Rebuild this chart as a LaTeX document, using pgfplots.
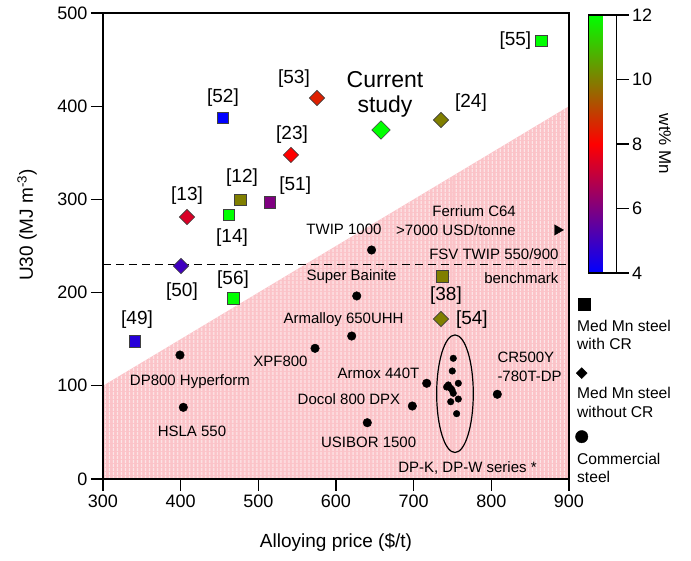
\documentclass[border=0pt]{standalone}
\usepackage{fontspec}
\setmainfont{Liberation Sans}
\usepackage{pgfplots}
\usepackage{pgfplotstable}
\pgfplotsset{compat=1.18}
\usetikzlibrary{patterns.meta}

\newcommand{\ann}{\fontsize{15}{19}\selectfont}
\newcommand{\refl}{\fontsize{19}{21}\selectfont}
\newcommand{\leg}{\fontsize{15.6}{18.5}\selectfont}

\pgfplotstableread{
x y mn
454.5 387.4 4
476.4 299.4 10
515.0 297.2 6
462.2 283.3 12
864.0 470.0 12
467.4 194.2 12
341.2 148.0 4.6
736.5 217.8 10
}\squares

\pgfplotstableread{
x y mn
575.5 408.8 8.5
542.0 347.7 8
408.2 281.1 7.4
735.2 385.2 10
400.4 228.5 5
735.2 171.7 10
}\diamonds

\pgfplotstableread{
x y
645.8 245.7
626.7 196.4
620.2 153.4
573.0 140.2
399.1 133.0
403.4 76.9
716.8 102.7
698.3 78.3
640.3 60.4
807.7 90.9
}\commercial

\pgfplotstableread{
x y
751.0 129.5
749.7 115.9
757.5 102.7
744.6 100.9
747.7 97.3
751.0 92.0
757.5 85.8
747.7 82.9
755.3 70.1
742.4 98.7
749.4 95.5
}\dpseries

\definecolor{pinkfill}{RGB}{251,195,200}

\begin{document}
\begin{tikzpicture}
\begin{axis}[
  width=466pt, height=466pt, scale only axis,
  xmin=300, xmax=900, ymin=0, ymax=500,
  xtick={300,400,...,900}, ytick={0,100,...,500},
  tick align=outside, tick pos=left, major tick length=12pt,
  axis line style={line width=1.1pt},
  every tick/.style={line width=1.1pt, black},
  ticklabel style={font=\fontsize{18}{20}\selectfont},
  /pgf/number format/assume math mode=true,
  xlabel={Alloying price (\$/t)},
  ylabel={U30 (MJ m\textsuperscript{-3})},
  label style={font=\fontsize{19}{22}\selectfont},
  x label style={at={(axis description cs:0.5,-0.137)}, anchor=center},
  y label style={at={(axis description cs:-0.163,0.545)}, anchor=center},
  axis on top,
  clip=false,
  colormap={mn}{rgb255=(0,0,255) rgb255=(255,0,0) rgb255=(0,255,0)},
  point meta min=4, point meta max=12,
  colorbar,
  colorbar style={
    at={(parent axis.north east)}, anchor=north west,
    xshift=11pt, yshift=-2pt,
    scale only axis, width=28pt, height=258pt,
    ytick={4,6,...,12},
    ytick pos=right, yticklabel pos=right,
    tick align=outside, major tick length=12pt,
    every tick/.style={line width=1.1pt, black},
    axis line style={line width=1.1pt},
    yticklabel style={font=\fontsize{18}{20}\selectfont},
    /pgf/number format/assume math mode=true,
    ylabel={wt\% Mn},
    ylabel style={rotate=180, font=\fontsize{17}{20}\selectfont},
  },
]
% shaded region
\addplot[draw=none, fill=pinkfill] coordinates {(300,100) (900,400)} \closedcycle;
\addplot[draw=none, pattern={Lines[angle=90, distance=4pt, line width=1pt]}, pattern color=white!60!pinkfill] coordinates {(300,100) (900,400)} \closedcycle;
% benchmark line
\addplot[black, line width=1.1pt, dash pattern=on 8pt off 5pt] coordinates {(300,230) (900,230)};

% commercial steels
\addplot[only marks, mark=*, mark size=4.3pt, black] table {\commercial};
\addplot[only marks, mark=*, mark size=3.3pt, black] table {\dpseries};
\draw[line width=1.2pt] (axis cs:753.2,91.5) ellipse [x radius=18.3pt, y radius=58.8pt];

% Med Mn with CR
\addplot[scatter, only marks, mark=square*, mark size=5.8pt, scatter src=explicit,
  scatter/use mapped color={draw=black!75, fill=mapped color},
  mark options={line width=0.6pt}] table[meta=mn] {\squares};
% Med Mn without CR
\addplot[scatter, only marks, mark=square*, mark size=5.4pt, scatter src=explicit,
  scatter/use mapped color={draw=black!75, fill=mapped color},
  mark options={rotate=45, line width=0.6pt}] table[meta=mn] {\diamonds};
% current study
\addplot[scatter, only marks, mark=square*, mark size=6.5pt, scatter src=explicit,
  scatter/use mapped color={draw=black!75, fill=mapped color},
  mark options={rotate=45, line width=0.6pt}] table[meta=mn] {
x y mn
658.0 374.5 12
};

% Ferrium arrow
\addplot[only marks, mark=triangle*, mark size=6pt, black, mark options={rotate=-90}] coordinates {(885.2,267.2)};

% legend markers
\addplot[only marks, mark=square*, mark size=6pt, black] coordinates {(919.3,187.8)};
\addplot[only marks, mark=square*, mark size=3.8pt, black, mark options={rotate=45}] coordinates {(916.4,113.6)};
\addplot[only marks, mark=*, mark size=6.2pt, black] coordinates {(916.4,45.4)};

% reference labels
\node[font=\refl] at (axis cs:454.5,408.8) {[52]};
\node[font=\refl] at (axis cs:545.9,429.2) {[53]};
\node[font=\fontsize{23}{25}\selectfont, align=center] at (axis cs:663.1,413.0) {Current\\study};
\node[font=\refl] at (axis cs:773.8,403.4) {[24]};
\node[font=\refl] at (axis cs:831.0,470.0) {[55]};
\node[font=\refl] at (axis cs:543.4,369.1) {[23]};
\node[font=\refl] at (axis cs:479.0,323.0) {[12]};
\node[font=\refl] at (axis cs:547.5,314.4) {[51]};
\node[font=\refl] at (axis cs:408.2,303.7) {[13]};
\node[font=\refl] at (axis cs:466.1,258.6) {[14]};
\node[font=\refl] at (axis cs:401.7,200.7) {[50]};
\node[font=\refl] at (axis cs:467.4,213.5) {[56]};
\node[font=\refl] at (axis cs:343.8,170.6) {[49]};
\node[font=\refl] at (axis cs:741.6,196.4) {[38]};
\node[font=\refl] at (axis cs:775.0,170.6) {[54]};

% commercial labels
\node[font=\ann] at (axis cs:610.3,268.3) {TWIP 1000};
\node[font=\ann, align=right, anchor=east] at (axis cs:836.1,277.3) {Ferrium C64\\>7000 USD/tonne};
\node[font=\ann, anchor=east] at (axis cs:891,241.4) {FSV TWIP 550/900};
\node[font=\ann, anchor=east] at (axis cs:891,215.7) {benchmark};
\node[font=\ann] at (axis cs:620.0,216.7) {Super Bainite};
\node[font=\ann] at (axis cs:609.7,170.6) {Armalloy 650UHH};
\node[font=\ann] at (axis cs:528.5,126.6) {XPF800};
\node[font=\ann] at (axis cs:412.0,104.1) {DP800 Hyperform};
\node[font=\ann] at (axis cs:414.6,51.5) {HSLA 550};
\node[font=\ann] at (axis cs:654.7,113.7) {Armox 440T};
\node[font=\ann] at (axis cs:616.7,85.8) {Docol 800 DPX};
\node[font=\ann] at (axis cs:642.0,39.7) {USIBOR 1500};
\node[font=\ann, align=left, anchor=west] at (axis cs:803.4,120.2) {CR500Y\\-780T-DP};
\node[font=\ann] at (axis cs:769.3,11.8) {DP-K, DP-W series *};

% legend text
\node[font=\leg, align=left, anchor=west, inner sep=0pt] at (axis cs:910.3,154.5) {Med Mn steel\\with CR};
\node[font=\leg, align=left, anchor=west, inner sep=0pt] at (axis cs:910.3,82.1) {Med Mn steel\\without CR};
\node[font=\leg, align=left, anchor=west, inner sep=0pt] at (axis cs:910.3,11.8) {Commercial\\steel};
\end{axis}
\pgfresetboundingbox
\path[use as bounding box] (-103pt,-82pt) rectangle (588pt,479pt);
\end{tikzpicture}
\end{document}
